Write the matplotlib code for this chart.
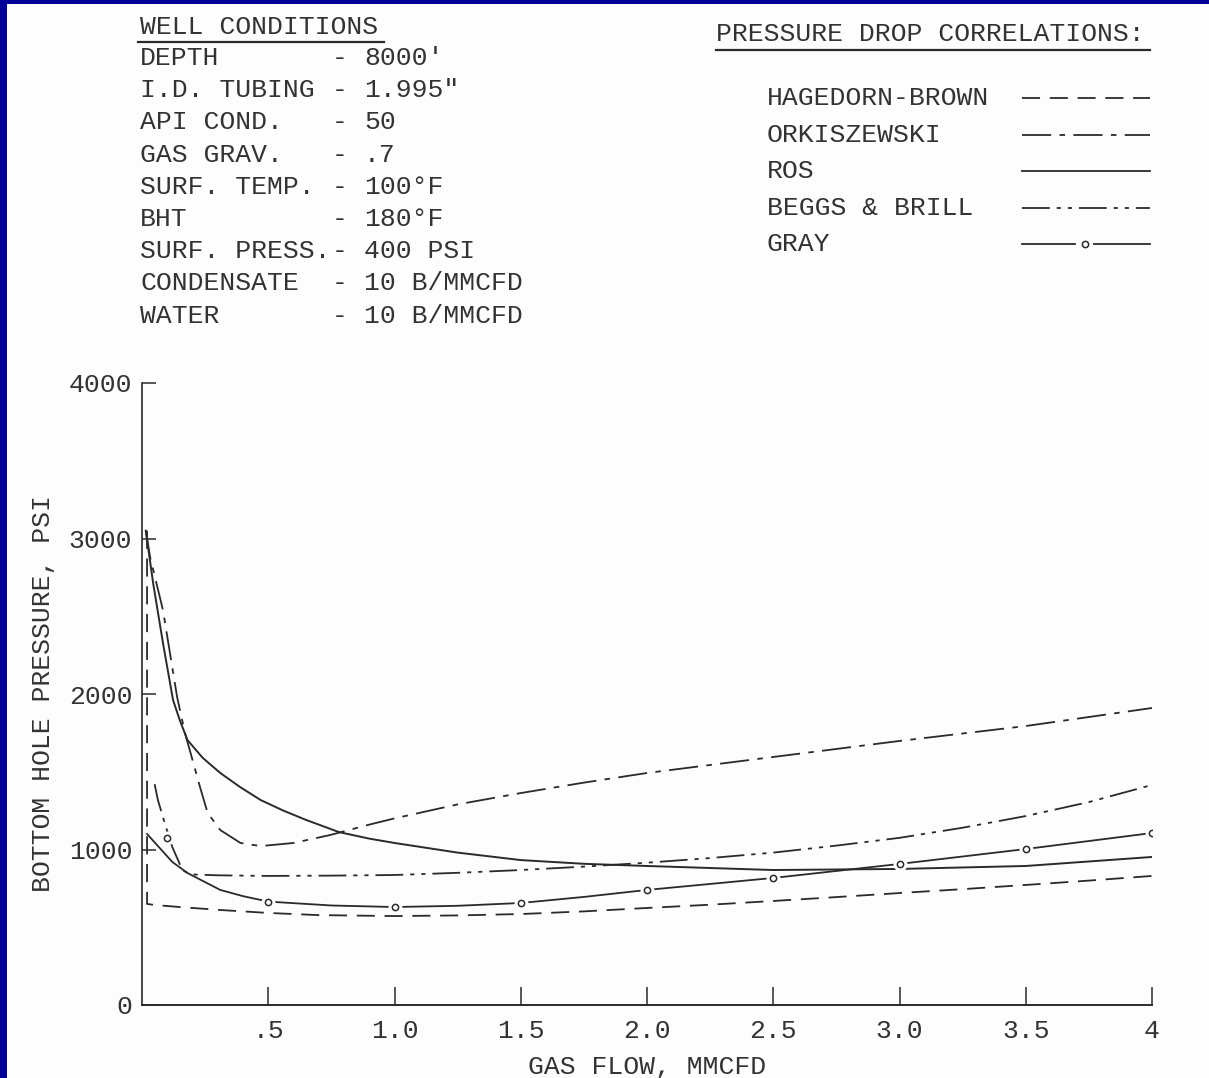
import matplotlib
matplotlib.use('Agg')
import matplotlib.pyplot as plt
from matplotlib.patches import Rectangle

plt.rcParams['font.family'] = ['Liberation Mono', 'DejaVu Sans Mono']
plt.rcParams['lines.scale_dashes'] = False

INK = '#2a2a2a'
TXT = '#333333'

# well conditions table
cond_names = ['DEPTH', 'I.D. TUBING', 'API COND.', 'GAS GRAV.', 'SURF. TEMP.',
              'BHT', 'SURF. PRESS.', 'CONDENSATE', 'WATER']
cond_values = ["8000\u2032", '1.995\u2033', '50', '.7', '100\u00b0F',
               '180\u00b0F', '400 PSI', '10 B/MMCFD', '10 B/MMCFD']

corr_names = ['HAGEDORN-BROWN', 'ORKISZEWSKI', 'ROS', 'BEGGS & BRILL', 'GRAY']

# curves (gas flow MMCFD, bottom hole pressure psi)
flow_hb = [0.02, 0.02, 0.05, 0.15, 0.31, 0.5, 0.7, 1.0, 1.25, 1.5, 1.75, 2.0,
           2.25, 2.5, 2.75, 3.0, 3.25, 3.5, 3.75, 4.0]
bhp_hb = [3050, 650, 643, 630, 611, 592, 578, 572, 576, 585, 602, 624,
          645, 669, 694, 720, 745, 772, 800, 830]

flow_ork = [0.015, 0.032, 0.083, 0.139, 0.17, 0.2, 0.23, 0.26, 0.31, 0.39, 0.47,
            0.6, 0.745, 0.9, 1.0, 1.25, 1.5, 1.75, 2.0, 2.5, 3.0, 3.5, 4.0]
bhp_ork = [3050, 2881, 2540, 1981, 1750, 1576, 1400, 1235, 1125, 1042, 1022,
           1042, 1093, 1160, 1200, 1290, 1363, 1430, 1492, 1595, 1698, 1794, 1910]

flow_ros = [0.015, 0.044, 0.083, 0.123, 0.15, 0.18, 0.24, 0.31, 0.39, 0.47, 0.56,
            0.65, 0.78, 0.9, 1.0, 1.25, 1.5, 1.75, 2.0, 2.5, 3.0, 3.5, 4.0]
bhp_ros = [3050, 2714, 2328, 1961, 1830, 1704, 1590, 1492, 1400, 1318, 1250,
           1190, 1112, 1070, 1042, 980, 932, 908, 894, 868, 875, 894, 952]

flow_bb = [0.05, 0.063, 0.09, 0.12, 0.16, 0.19, 0.3, 0.5, 0.75, 1.0, 1.25, 1.5,
           1.75, 2.0, 2.25, 2.5, 2.75, 3.0, 3.25, 3.5, 3.75, 4.0]
bhp_bb = [1420, 1318, 1170, 1016, 868, 840, 834, 830, 832, 836, 850, 868,
          890, 915, 945, 980, 1025, 1075, 1140, 1215, 1305, 1415]

flow_gray = [0.02, 0.07, 0.12, 0.18, 0.25, 0.31, 0.4, 0.5, 0.75, 1.0, 1.25, 1.5,
             1.75, 2.0, 2.5, 3.0, 3.5, 4.0]
bhp_gray = [1100, 1010, 920, 849, 790, 740, 700, 665, 640, 630, 638, 656,
            695, 740, 817, 907, 1003, 1106]
flow_gray_pts = [0.1, 0.5, 1.0, 1.5, 2.0, 2.5, 3.0, 3.5, 4.0]
bhp_gray_pts = [1074, 665, 630, 656, 740, 817, 907, 1003, 1106]

x_ticks = [0.5, 1.0, 1.5, 2.0, 2.5, 3.0, 3.5, 4.0]
x_labels = ['.5', '1.0', '1.5', '2.0', '2.5', '3.0', '3.5', '4']
y_ticks = [0, 1000, 2000, 3000, 4000]

ls_hb = (0, (13, 7))
ls_ork = (0, (21, 6, 4, 6))
ls_bb = (0, (20, 5, 3, 5, 3, 5))

fig = plt.figure(figsize=(12.09, 10.78), dpi=100)
fig.patch.set_facecolor('#000099')

# page overlay in pixel coordinates
pg = fig.add_axes([0, 0, 1, 1], zorder=0)
pg.set_xlim(0, 1209)
pg.set_ylim(1078, 0)
pg.axis('off')
pg.add_patch(Rectangle((7, 4), 1202, 1074, facecolor='#fdfdfd', edgecolor='none'))

fs = 19
pg.text(140, 27, 'WELL CONDITIONS', fontsize=fs, color=TXT, va='center', ha='left')
pg.plot([138, 384], [42, 42], color=INK, lw=1.6)
for i, (n, v) in enumerate(zip(cond_names, cond_values)):
    yy = 58 + i * 32.2
    pg.text(140, yy, n, fontsize=fs, color=TXT, va='center', ha='left')
    pg.text(340, yy, '-', fontsize=fs, color=TXT, va='center', ha='center')
    pg.text(364, yy, v, fontsize=fs, color=TXT, va='center', ha='left')

pg.text(716, 34, 'PRESSURE DROP CORRELATIONS:', fontsize=fs, color=TXT, va='center', ha='left')
pg.plot([716, 1150], [50, 50], color=INK, lw=1.6)

leg_styles = [ls_hb, ls_ork, '-', ls_bb, '-']
for i, (n, st) in enumerate(zip(corr_names, leg_styles)):
    yy = 98 + i * 36.6
    pg.text(767, yy, n, fontsize=fs, color=TXT, va='center', ha='left')
    if n == 'GRAY':
        pg.plot([1022, 1075], [yy, yy], color=INK, lw=1.3)
        pg.plot([1094, 1150], [yy, yy], color=INK, lw=1.3)
        pg.plot([1085], [yy], 'o', ms=4.5, mfc='white', mec=INK, mew=1.1)
    else:
        pg.plot([1022, 1150], [yy, yy], color=INK, lw=1.3, linestyle=st)

# main chart
ax = fig.add_axes([142 / 1209, 73 / 1078, 1010 / 1209, 622 / 1078], zorder=1)
ax.patch.set_alpha(0)

ax.plot(flow_hb, bhp_hb, color=INK, lw=1.3, linestyle=ls_hb)
ax.plot(flow_ork, bhp_ork, color=INK, lw=1.3, linestyle=ls_ork)
ax.plot(flow_ros, bhp_ros, color=INK, lw=1.4)
ax.plot(flow_bb, bhp_bb, color=INK, lw=1.3, linestyle=ls_bb)
ax.plot(flow_gray, bhp_gray, color=INK, lw=1.3)
ax.plot(flow_gray_pts, bhp_gray_pts, 'o', ms=10, mfc='#fdfdfd', mec='none')
ax.plot(flow_gray_pts, bhp_gray_pts, 'o', ms=4.5, mfc='white', mec=INK, mew=1.1)

ax.set_xlim(0, 4)
ax.set_ylim(0, 4000)
ax.spines['top'].set_visible(False)
ax.spines['right'].set_visible(False)
ax.spines['left'].set_color(INK)
ax.spines['bottom'].set_color(INK)
ax.spines['left'].set_linewidth(1.2)
ax.spines['bottom'].set_linewidth(1.4)

ax.set_xticks(x_ticks)
ax.set_xticklabels(x_labels)
ax.set_yticks(y_ticks)
ax.tick_params(axis='x', direction='in', length=13, width=1.1, color=INK,
               labelsize=fs, labelcolor=TXT, pad=10)
ax.tick_params(axis='y', direction='in', length=10, width=1.1, color=INK,
               labelsize=fs, labelcolor=TXT, pad=7)
ax.set_xlabel('GAS FLOW, MMCFD', fontsize=fs, color=TXT, labelpad=9)
ax.set_ylabel('BOTTOM HOLE PRESSURE, PSI', fontsize=fs, color=TXT, labelpad=10)

plt.savefig('out.png', dpi=100, facecolor=fig.get_facecolor())
